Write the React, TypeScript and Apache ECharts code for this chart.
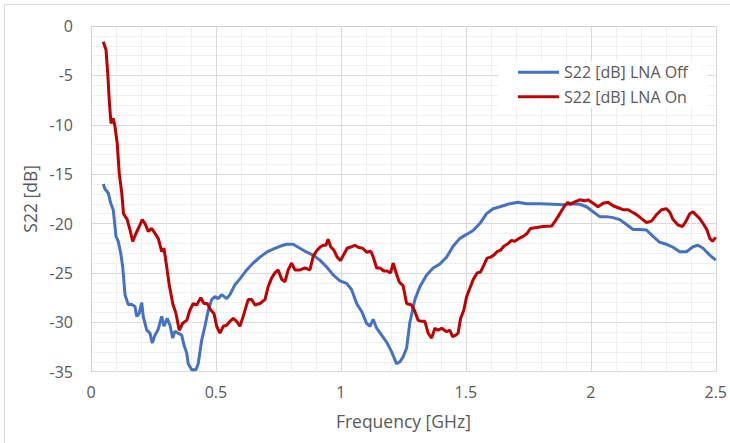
import React, { useEffect, useRef } from "react";
import * as echarts from "echarts";

const seriesNames = ["S22 [dB] LNA Off", "S22 [dB] LNA On"];

const offFreq = [0.049,0.056,0.069,0.079,0.089,0.1,0.109,0.119,0.127,0.136,0.149,0.163,0.176,0.183,0.193,0.203,0.209,0.223,0.236,0.245,0.256,0.269,0.283,0.292,0.305,0.316,0.327,0.336,0.349,0.363,0.372,0.383,0.389,0.403,0.42,0.429,0.443,0.456,0.469,0.483,0.496,0.509,0.523,0.543,0.556,0.576,0.596,0.623,0.649,0.676,0.703,0.729,0.756,0.783,0.809,0.836,0.863,0.889,0.916,0.943,0.969,0.996,1.023,1.043,1.063,1.083,1.103,1.116,1.129,1.143,1.163,1.183,1.203,1.223,1.236,1.249,1.263,1.276,1.296,1.316,1.343,1.369,1.396,1.423,1.449,1.476,1.503,1.529,1.556,1.583,1.609,1.636,1.676,1.709,1.743,1.796,1.849,1.889,1.916,1.956,1.983,2.009,2.036,2.063,2.089,2.116,2.143,2.169,2.196,2.223,2.249,2.276,2.303,2.329,2.356,2.383,2.409,2.429,2.449,2.476,2.5];
const offDb = [-16.0,-16.5,-16.9,-17.95,-18.6,-21.3,-21.8,-23.0,-24.4,-27.2,-28.2,-28.2,-28.4,-29.4,-29.1,-28.0,-29.4,-30.8,-31.1,-32.1,-31.3,-30.7,-29.4,-30.4,-29.6,-30.3,-31.6,-30.9,-31.1,-31.3,-32.3,-33.1,-34.2,-34.8,-34.8,-34.2,-31.8,-30.4,-28.8,-27.7,-27.4,-27.6,-27.2,-27.6,-27.2,-26.2,-25.6,-24.7,-24.0,-23.4,-22.9,-22.6,-22.3,-22.1,-22.1,-22.5,-22.9,-23.2,-23.7,-24.4,-25.2,-25.8,-26.05,-26.7,-28.1,-28.9,-30.1,-30.4,-29.7,-30.6,-31.3,-32.0,-33.0,-34.2,-34.0,-33.5,-32.6,-30.0,-27.7,-26.4,-25.2,-24.5,-24.1,-23.4,-22.3,-21.5,-21.1,-20.7,-20.0,-19.0,-18.5,-18.3,-18.0,-17.85,-18.0,-18.0,-18.05,-18.1,-18.0,-18.05,-18.3,-18.8,-19.3,-19.3,-19.4,-19.6,-20.1,-20.6,-20.6,-20.65,-21.3,-21.9,-22.1,-22.4,-22.85,-22.85,-22.35,-22.2,-22.5,-23.2,-23.7];

const onFreq = [0.049,0.06,0.067,0.073,0.08,0.089,0.096,0.105,0.113,0.123,0.13,0.145,0.156,0.167,0.18,0.193,0.205,0.216,0.229,0.243,0.256,0.269,0.283,0.292,0.303,0.313,0.327,0.34,0.353,0.367,0.383,0.396,0.409,0.423,0.439,0.452,0.465,0.479,0.492,0.503,0.516,0.529,0.543,0.556,0.569,0.583,0.596,0.609,0.629,0.643,0.656,0.676,0.696,0.709,0.723,0.736,0.749,0.763,0.776,0.789,0.803,0.816,0.836,0.856,0.876,0.889,0.903,0.916,0.929,0.94,0.949,0.959,0.972,0.985,0.999,1.012,1.025,1.043,1.056,1.069,1.087,1.103,1.119,1.129,1.143,1.156,1.172,1.185,1.199,1.209,1.22,1.233,1.249,1.263,1.283,1.296,1.309,1.323,1.336,1.349,1.363,1.376,1.389,1.403,1.423,1.436,1.447,1.46,1.469,1.479,1.492,1.503,1.516,1.529,1.545,1.559,1.572,1.585,1.599,1.612,1.625,1.639,1.652,1.665,1.683,1.696,1.713,1.729,1.745,1.759,1.783,1.809,1.843,1.856,1.869,1.883,1.896,1.909,1.916,1.936,1.956,1.976,1.989,2.009,2.029,2.049,2.069,2.089,2.109,2.129,2.149,2.163,2.183,2.203,2.223,2.243,2.263,2.283,2.303,2.316,2.329,2.349,2.367,2.38,2.396,2.409,2.42,2.436,2.452,2.465,2.476,2.487,2.5];
const onDb = [-1.6,-2.4,-4.8,-7.5,-9.85,-9.35,-10.2,-11.9,-14.9,-16.9,-19.0,-19.6,-20.65,-21.8,-21.0,-20.3,-19.6,-20.0,-20.8,-20.5,-21.0,-21.5,-22.85,-22.5,-24.4,-26.2,-28.1,-29.1,-30.8,-30.1,-29.8,-28.75,-28.1,-28.25,-27.5,-28.1,-28.1,-28.75,-29.1,-30.4,-31.1,-30.4,-30.3,-29.9,-29.6,-29.9,-30.4,-29.4,-27.7,-27.7,-28.25,-28.1,-27.7,-26.4,-25.5,-25.0,-24.7,-25.65,-25.9,-24.7,-24.0,-24.7,-24.7,-24.5,-24.7,-23.35,-22.75,-22.4,-22.2,-22.2,-21.6,-22.35,-22.7,-23.4,-23.75,-23.1,-22.5,-22.35,-22.2,-22.4,-22.5,-22.9,-22.8,-23.35,-24.5,-24.5,-24.8,-24.8,-25.0,-24.0,-24.9,-25.9,-26.3,-28.1,-28.25,-28.9,-29.8,-29.9,-29.9,-31.1,-31.6,-30.6,-30.8,-30.6,-30.95,-30.8,-31.45,-31.3,-31.1,-29.6,-28.75,-27.4,-26.55,-25.7,-25.0,-24.9,-24.2,-23.5,-23.4,-23.2,-22.85,-22.7,-22.3,-22.1,-21.7,-21.8,-21.5,-21.3,-21.0,-20.5,-20.4,-20.3,-20.25,-19.8,-19.3,-18.7,-18.2,-17.85,-18.05,-17.8,-17.6,-17.7,-17.6,-17.95,-18.3,-17.95,-17.85,-18.2,-18.4,-18.6,-18.6,-18.8,-19.1,-19.5,-19.9,-19.75,-19.1,-18.6,-18.5,-18.85,-19.6,-20.15,-20.3,-19.8,-19.0,-18.8,-19.1,-19.5,-20.1,-20.65,-21.5,-21.8,-21.4];

const xName = "Frequency [GHz]";
const yName = "S22 [dB]";

const FONT = "'Open Sans', 'Noto Sans', sans-serif";
const TEXT = "#595959";

export default function App() {
  const ref = useRef<HTMLDivElement>(null);
  useEffect(() => {
    if (!ref.current) return;
    const chart = echarts.init(ref.current, undefined, { renderer: "svg" });
    const zip = (xs: number[], ys: number[]) => xs.map((x, i) => [x, ys[i]]);
    chart.setOption({
      animation: false,
      backgroundColor: "#ffffff",
      textStyle: { fontFamily: FONT },
      grid: { left: 91, right: 13.5, top: 26, bottom: 71.3, containLabel: false },
      graphic: [
        {
          type: "rect",
          shape: { x: 4.5, y: 4.5, width: 760, height: 460 },
          style: { fill: "none", stroke: "#d9d9d9", lineWidth: 1 },
          silent: true,
        },
      ],
      legend: {
        orient: "vertical",
        left: 498,
        top: 61.3,
        padding: [0, 20, 0, 20],
        backgroundColor: "#ffffff",
        icon: "rect",
        itemWidth: 41,
        itemHeight: 3,
        itemGap: 2.4,
        textStyle: { color: TEXT, fontSize: 16, fontFamily: FONT, lineHeight: 22 },
        data: seriesNames,
      },
      xAxis: {
        type: "value",
        min: 0,
        max: 2.5,
        interval: 0.5,
        name: xName,
        nameLocation: "middle",
        nameGap: 40,
        nameTextStyle: { color: TEXT, fontSize: 17.5, fontFamily: FONT },
        axisLine: { show: true, lineStyle: { color: "#d0d0d0", width: 1 } },
        axisTick: { show: false },
        axisLabel: { color: TEXT, fontSize: 16, fontFamily: FONT, margin: 12 },
        splitLine: { show: true, lineStyle: { color: "#d9d9d9", width: 1 } },
        minorTick: { show: false, splitNumber: 5 },
        minorSplitLine: { show: true, lineStyle: { color: "#efefef", width: 1 } },
      },
      yAxis: {
        type: "value",
        min: -35,
        max: 0,
        interval: 5,
        name: yName,
        nameLocation: "middle",
        nameGap: 44.5,
        nameTextStyle: { color: TEXT, fontSize: 17.5, fontFamily: FONT },
        axisLine: { show: true, lineStyle: { color: "#d0d0d0", width: 1 } },
        axisTick: { show: false },
        axisLabel: { color: TEXT, fontSize: 16, fontFamily: FONT, margin: 18 },
        splitLine: { show: true, lineStyle: { color: "#d9d9d9", width: 1 } },
        minorTick: { show: false, splitNumber: 5 },
        minorSplitLine: { show: true, lineStyle: { color: "#efefef", width: 1 } },
      },
      series: [
        {
          name: seriesNames[0],
          type: "line",
          data: zip(offFreq, offDb),
          symbol: "none",
          showSymbol: false,
          itemStyle: { color: "#4472C4" },
          lineStyle: { color: "#4472C4", width: 3 },
          z: 3,
        },
        {
          name: seriesNames[1],
          type: "line",
          data: zip(onFreq, onDb),
          symbol: "none",
          showSymbol: false,
          itemStyle: { color: "#C00000" },
          lineStyle: { color: "#C00000", width: 3 },
          z: 4,
        },
      ],
    });
    return () => chart.dispose();
  }, []);
  return (
    <div
      ref={ref}
      style={{ position: "fixed", left: 0, top: 0, width: 730, height: 443 }}
    />
  );
}
